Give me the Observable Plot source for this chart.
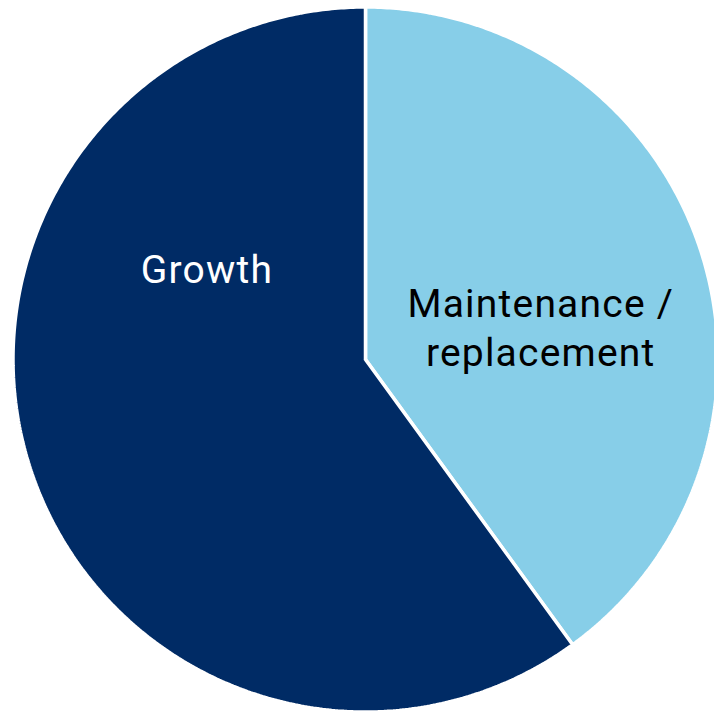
<!DOCTYPE html>
<html>
<head>
<meta charset="utf-8">
<script src="https://cdn.jsdelivr.net/npm/d3@7"></script>
<script src="https://cdn.jsdelivr.net/npm/@observablehq/plot@0.6"></script>
<style>
  html, body { margin: 0; padding: 0; background: #fff; }
  #chart svg { display: block; }
</style>
</head>
<body>
<div id="chart"></div>
<script>
const categories = ["Maintenance / replacement", "Growth"];
const labelText = ["Maintenance /\nreplacement", "Growth"];
const values = [40, 60];
const colors = ["#87CEE8", "#002B65"];
const textColors = ["#000000", "#ffffff"];

const W = 714, H = 711;
const cx = 365, cy = 359, R = 352.5;

const arcs = d3.pie().sort(null).value(d => d)(values);
const pts = [];
arcs.forEach((a, i) => {
  const name = categories[i];
  pts.push({name, x: 0, y: 0});
  const n = Math.max(2, Math.ceil((a.endAngle - a.startAngle) / (Math.PI / 360)));
  for (let k = 0; k <= n; k++) {
    const t = a.startAngle + (a.endAngle - a.startAngle) * k / n;
    pts.push({name, x: Math.sin(t), y: Math.cos(t)});
  }
  pts.push({name, x: 0, y: 0});
});

// label anchor positions (in unit-circle coordinates)
const labelPos = [[0.497, 0.095], [-0.45, 0.262]];
const labels = categories.map((c, i) => ({
  name: c, text: labelText[i], x: labelPos[i][0], y: labelPos[i][1], color: textColors[i]
}));

const chart = Plot.plot({
  width: W, height: H,
  margin: 0,
  x: {domain: [-1, 1], range: [cx - R, cx + R], axis: null},
  y: {domain: [-1, 1], range: [cy + R, cy - R], axis: null},
  color: {domain: categories, range: colors},
  marks: [
    Plot.line(pts, {x: "x", y: "y", z: "name", fill: "name", stroke: "#ffffff", strokeWidth: 3.5, strokeLinejoin: "miter", curve: "linear"}),
    Plot.text(labels, {x: "x", y: "y", text: "text", fill: d => d.color, fontSize: 39, lineHeight: 1.25,
      fontFamily: "Roboto", fontWeight: 400, textAnchor: "middle", lineAnchor: "middle"})
  ]
});
chart.querySelectorAll("text").forEach(t => t.style.letterSpacing = "1.2px");
document.getElementById("chart").appendChild(chart);
</script>
</body>
</html>
